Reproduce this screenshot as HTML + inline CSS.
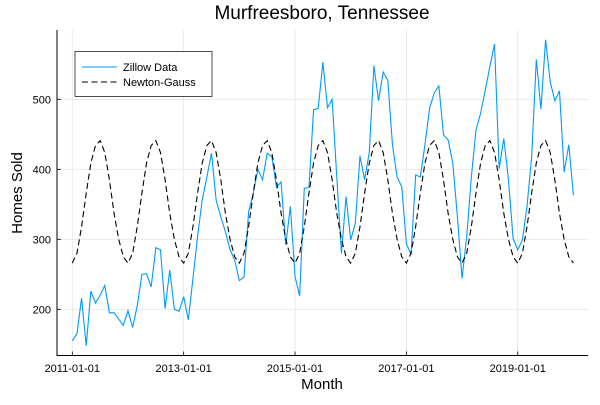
<!DOCTYPE html>
<html><head><meta charset="utf-8"><style>
body{margin:0;background:#fff;}
svg text{font-family:"Liberation Sans",sans-serif;}
</style></head><body>
<svg id="chart" width="600" height="400" xmlns="http://www.w3.org/2000/svg">
<rect width="600" height="400" fill="#fff"/>
<g id="grid"></g>
<g id="axes"></g>
<g id="series"></g>
<text x="322" y="19" text-anchor="middle" font-size="19">Murfreesboro, Tennessee</text>
<text x="322" y="389" text-anchor="middle" font-size="15">Month</text>
<text x="22" y="193" text-anchor="middle" font-size="15" transform="rotate(-90 22 193)">Homes Sold</text>
<g>
<rect x="75" y="51.5" width="137" height="45" fill="#fff" stroke="#222" stroke-width="0.8"/>
<line x1="82" y1="67" x2="117" y2="67" stroke="#009af9" stroke-width="1.1"/>
<text x="123" y="71" font-size="11">Zillow Data</text>
<line x1="82" y1="82" x2="117" y2="82" stroke="#000" stroke-width="1.1" stroke-dasharray="6,3.5"/>
<text x="123" y="86" font-size="11">Newton-Gauss</text>
</g>
</svg>
<script>
const zillow = [155,165,216,148,226,209,220,234,195,195,186,177,
198,174,205,250,251,232,288,285,201,256,200,197,
218,185,244,304,356,389,423,356,332,311,285,270,
241,246,339,366,400,385,423,418,374,382,292,347,
247,219,373,374,485,487,553,488,500,389,280,361,
299,323,419,385,424,548,498,539,527,435,389,375,
294,278,392,389,435,487,509,519,449,442,409,332,
244,304,389,456,480,513,547,579,401,444,385,301,
285,299,347,418,557,486,585,525,498,512,396,435,363];
const newtonGaussCycle = [266,280,318,366,409,434,441,424,385,337,300,275];
const newtonGauss = [];
for (let i = 0; i < zillow.length; i++) newtonGauss.push(newtonGaussCycle[i % 12]);
const yTicks = [200,300,400,500];
const xTickLabels = ["2011-01-01","2013-01-01","2015-01-01","2017-01-01","2019-01-01"];
const xTickMonths = [0,24,48,72,96];

const L=57,R=588,T=30,B=355.5;
const xs = m => 72.3 + m*4.64;
const ys = v => 99.3 + (500 - v)*0.7;
const NS="http://www.w3.org/2000/svg";
function mk(tag, attrs, parent){const e=document.createElementNS(NS,tag);for(const k in attrs)e.setAttribute(k,attrs[k]);parent.appendChild(e);return e;}
const grid=document.getElementById('grid'), axes=document.getElementById('axes'), series=document.getElementById('series');
yTicks.forEach(v=>{
  const g=mk('line',{x1:L,x2:R,y1:ys(v),y2:ys(v),stroke:'#e6e6e6','stroke-width':0.8},grid);
  
  
  const t=mk('line',{x1:L,x2:L+4,y1:ys(v),y2:ys(v),stroke:'#000','stroke-width':0.8},axes);
  
  
  const tx=mk('text',{x:L-6,y:ys(v)+4,'text-anchor':'end','font-size':11},axes);
  tx.textContent=v;
  
  
});
xTickMonths.forEach((m,i)=>{
  const g=mk('line',{x1:xs(m),x2:xs(m),y1:T,y2:B,stroke:'#e6e6e6','stroke-width':0.8},grid);
  
  
  const t=mk('line',{x1:xs(m),x2:xs(m),y1:B,y2:B-4,stroke:'#000','stroke-width':0.8},axes);
  
  
  const tx=mk('text',{x:xs(m),y:372,'text-anchor':'middle','font-size':11},axes);
  tx.textContent=xTickLabels[i];
  
  
});
const ax=mk('path',{d:`M${L},${T}V${B}H${R}`,fill:'none',stroke:'#000','stroke-width':1},axes);


const z=mk('polyline',{points:zillow.map((v,i)=>xs(i)+','+ys(v)).join(' '),fill:'none',stroke:'#009af9','stroke-width':1.1},series);


const n=mk('polyline',{points:newtonGauss.map((v,i)=>xs(i)+','+ys(v)).join(' '),fill:'none',stroke:'#000','stroke-width':1.1,'stroke-dasharray':'6,3.5'},series);


</script>
</body></html>
